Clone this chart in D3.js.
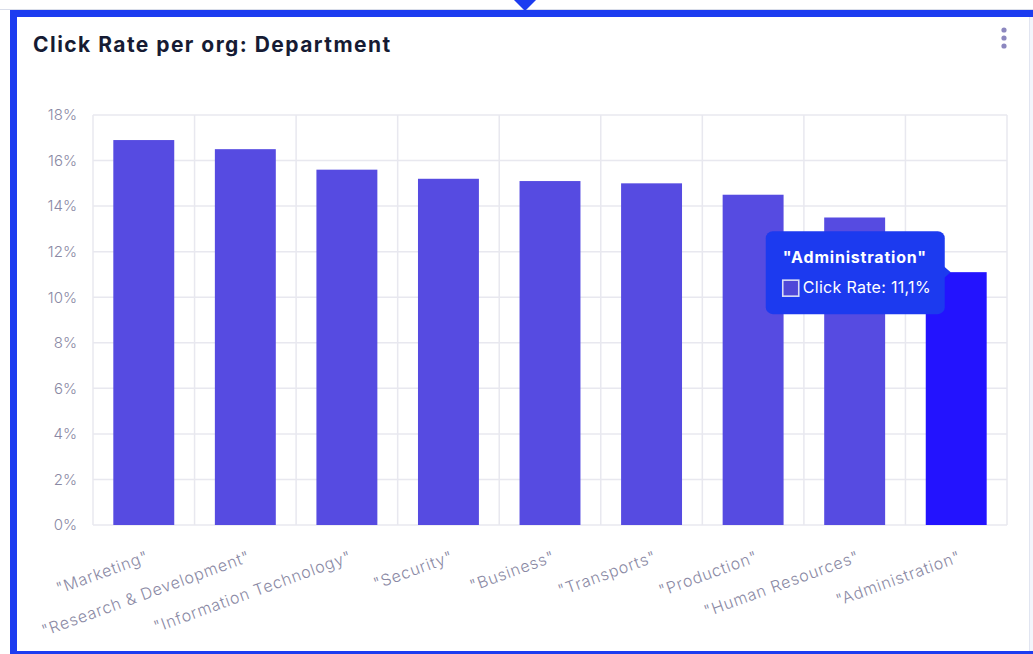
<!DOCTYPE html>
<html>
<head>
<meta charset="utf-8">
<script src="https://cdn.jsdelivr.net/npm/d3@7"></script>
<style>
  html, body { margin: 0; padding: 0; background: #ffffff; }
  svg { display: block; }
  text { font-family: Inter, "Noto Sans", sans-serif; }
</style>
</head>
<body>
<svg id="chart" width="1033" height="654"></svg>
<script>
// ---- data ----
const categories = ["\"Marketing\"", "\"Research & Development\"", "\"Information Technology\"", "\"Security\"", "\"Business\"", "\"Transports\"", "\"Production\"", "\"Human Resources\"", "\"Administration\""];
const clickRate = [16.9, 16.5, 15.6, 15.2, 15.1, 15.0, 14.5, 13.5, 11.1];
const yTicks = [0, 2, 4, 6, 8, 10, 12, 14, 16, 18];
const title = "Click Rate per org: Department";
const highlighted = "\"Administration\"";
const seriesName = "Click Rate";

const svg = d3.select("#chart");
const W = 1033, H = 654;
const BLUE = "#1c3cf0";

// ---- card frame ----
svg.append("line").attr("x1", 0).attr("x2", W).attr("y1", 9.5).attr("y2", 9.5).attr("stroke", "#d9dde9");
svg.append("rect").attr("x", 1029).attr("y", 17).attr("width", 4).attr("height", H - 17).attr("fill", "#f3f5fb");
svg.append("line").attr("x1", 1029.5).attr("x2", 1029.5).attr("y1", 17).attr("y2", H).attr("stroke", "#e1e5f1");
svg.append("rect").attr("x", 10).attr("y", 10).attr("width", W - 10).attr("height", 7).attr("fill", BLUE);
svg.append("rect").attr("x", 10).attr("y", 10).attr("width", 7).attr("height", H - 10).attr("fill", BLUE);
svg.append("rect").attr("x", 10).attr("y", 651).attr("width", W - 10).attr("height", 3).attr("fill", BLUE);
svg.append("path").attr("d", "M514,0 L536,0 L525,11 Z").attr("fill", BLUE);

// title
svg.append("text").attr("x", 33).attr("y", 52)
  .attr("font-size", 21).attr("font-weight", 700).attr("fill", "#161b33")
  .attr("letter-spacing", 1.45)
  .text(title);

// menu dots
[30, 38, 46].forEach(cy => svg.append("circle").attr("cx", 1004).attr("cy", cy).attr("r", 2.6).attr("fill", "#8c87bf"));

// ---- scales ----
const plot = { left: 93, right: 1007, top: 115, bottom: 525 };
const x = d3.scaleBand().domain(categories).range([plot.left, plot.right]).padding(0);
const xBar = d3.scaleBand().domain(categories).range([plot.left, plot.right]).paddingInner(0.4).paddingOuter(0.2);
const y = d3.scaleLinear().domain([0, 18]).range([plot.bottom, plot.top]);

const g = svg.append("g");

// horizontal grid
g.selectAll("line.hg").data(yTicks).join("line")
  .attr("x1", plot.left).attr("x2", plot.right)
  .attr("y1", d => y(d)).attr("y2", d => y(d))
  .attr("stroke", "#e8e8ef").attr("stroke-width", 1.5);

// vertical grid at band boundaries
const bounds = categories.map(c => x(c)).concat([plot.right]);
g.selectAll("line.vg").data(bounds).join("line")
  .attr("x1", d => d).attr("x2", d => d)
  .attr("y1", plot.top).attr("y2", plot.bottom)
  .attr("stroke", "#e8e8ef").attr("stroke-width", 1.5);

// y axis labels
const yAxis = d3.axisLeft(y).tickValues(yTicks).tickFormat(d => d + "%").tickSize(0).tickPadding(0);
const ya = svg.append("g").attr("transform", `translate(${77},0)`).call(yAxis);
ya.select(".domain").remove();
ya.selectAll("text").attr("font-size", 15).attr("fill", "#8a89a4").attr("font-family", "Inter, sans-serif").attr("font-weight", 300);

// bars
g.selectAll("rect.bar").data(categories).join("rect")
  .attr("x", d => xBar(d)).attr("width", xBar.bandwidth())
  .attr("y", (d, i) => y(clickRate[i]))
  .attr("height", (d, i) => y(0) - y(clickRate[i]))
  .attr("fill", d => d === highlighted ? "#2313fe" : "#564be1");

// x labels
const xAxis = d3.axisBottom(x).tickSize(0).tickPadding(0);
const xa = svg.append("g").attr("transform", `translate(0,${561})`).call(xAxis);
xa.select(".domain").remove();
xa.selectAll("text")
  .attr("font-size", 16).attr("fill", "#8a89a4").attr("font-weight", 300)
  .attr("letter-spacing", 0.8)
  .attr("font-family", "Inter, sans-serif")
  .attr("text-anchor", "end").attr("dy", 0).attr("y", 0)
  .attr("transform", "translate(6,0) rotate(-20)");

// ---- tooltip ----
const hi = categories.indexOf(highlighted);
const tipX = xBar(highlighted) + 25;
const tipY = y(clickRate[hi]);
const tw = 179, th = 83;
const bx = tipX - 6 - tw, by = tipY - 41;
const tip = svg.append("g");
tip.append("rect").attr("x", bx).attr("y", by).attr("width", tw).attr("height", th).attr("rx", 7).attr("fill", "#1c3aef");
tip.append("path").attr("d", `M${bx + tw - 1},${tipY - 6} L${tipX},${tipY} L${bx + tw - 1},${tipY + 6} Z`).attr("fill", "#1c3aef");
tip.append("text").attr("x", bx + 17).attr("y", by + 32).attr("font-size", 16).attr("font-weight", 700).attr("letter-spacing", 0.8).attr("fill", "#ffffff").text(highlighted);
tip.append("rect").attr("x", bx + 17).attr("y", by + 49).attr("width", 16).attr("height", 16).attr("fill", "#4f48d8").attr("stroke", "#d8dcf5").attr("stroke-width", 1.6);
tip.append("text").attr("x", bx + 37).attr("y", by + 62).attr("font-size", 16).attr("font-weight", 400).attr("letter-spacing", 0.3).attr("fill", "#ffffff")
  .text(`${seriesName}: ${String(clickRate[hi]).replace(".", ",")}%`);
</script>
</body>
</html>
